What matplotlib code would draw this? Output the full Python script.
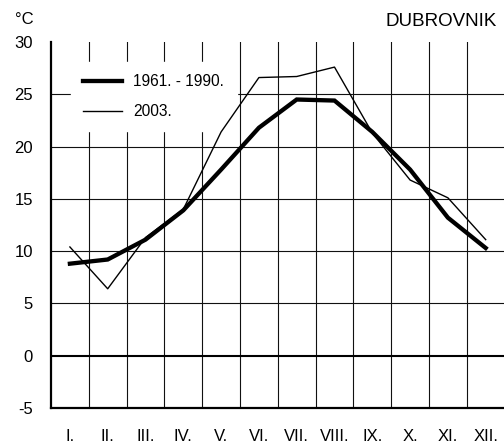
import matplotlib
matplotlib.use("Agg")
import matplotlib.pyplot as plt
import numpy as np

plt.rcParams['font.family'] = ['Liberation Sans', 'DejaVu Sans']
plt.rcParams['axes.unicode_minus'] = False

months = ['I.', 'II.', 'III.', 'IV.', 'V.', 'VI.', 'VII.', 'VIII.', 'IX.', 'X.', 'XI.', 'XII.']
t_1961_1990 = [8.8, 9.2, 11.1, 13.9, 17.8, 21.8, 24.5, 24.4, 21.4, 17.8, 13.2, 10.3]
t_2003 = [10.4, 6.4, 11.3, 14.0, 21.4, 26.6, 26.7, 27.6, 21.3, 16.8, 15.1, 11.1]
yticks = [-5, 0, 5, 10, 15, 20, 25, 30]

x = np.arange(1, len(months) + 1)

fig = plt.figure(figsize=(5.04, 4.43), dpi=100)
ax = fig.add_axes([51 / 504, 1 - 408 / 443, 453.6 / 504, 366 / 443])

# grid
for xv in np.arange(1.5, 12.5, 1.0):
    ax.axvline(xv, color='#111111', lw=0.8, zorder=1)
for yv in [5, 10, 15, 20, 25]:
    ax.axhline(yv, color='#111111', lw=0.8, zorder=1)
ax.axhline(0, color='black', lw=1.5, zorder=1)

ax.plot(x, t_1961_1990, color='black', lw=3.1, label='1961. - 1990.', zorder=3,
        solid_joinstyle='miter')
ax.plot(x, t_2003, color='black', lw=1.0, label='2003.', zorder=3)

ax.set_xlim(0.5, 12.5)
ax.set_ylim(-5, 30)
ax.set_xticks(x)
ax.set_xticklabels(months)
ax.set_yticks(yticks)
ax.tick_params(axis='both', length=0, labelsize=12)
ax.tick_params(axis='x', pad=15)
ax.tick_params(axis='y', pad=13)

for s in ['top', 'right']:
    ax.spines[s].set_visible(False)
for s in ['left', 'bottom']:
    ax.spines[s].set_linewidth(1.6)
    ax.spines[s].set_color('black')

leg = ax.legend(loc='upper left', bbox_to_anchor=(0.044, 0.946), borderaxespad=0,
                fontsize=11.2, frameon=True, fancybox=False, edgecolor='white',
                facecolor='white', framealpha=1, handlelength=2.5, handletextpad=0.7,
                labelspacing=0.95, borderpad=0.8)
leg.set_zorder(2)

fig.text(34 / 504, 1 - 20 / 443, '°C', ha='right', va='center', fontsize=12)
fig.text(497 / 504, 1 - 22 / 443, 'DUBROVNIK', ha='right', va='center', fontsize=13.5)

fig.savefig('out.png', dpi=100)
